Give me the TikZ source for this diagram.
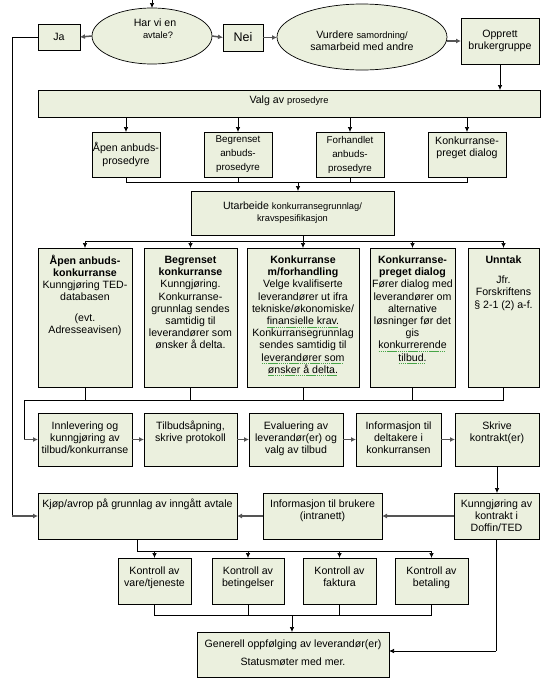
\documentclass[tikz,border=0pt]{standalone}
\usepackage{fontspec}
\setmainfont{Liberation Sans}
\usetikzlibrary{shapes.geometric,arrows.meta}
\definecolor{boxfill}{RGB}{235,240,222}
\definecolor{dg}{RGB}{85,85,85}
\definecolor{gwc}{RGB}{70,165,70}
\newcommand\nf{\fontsize{10.6}{12.2}\selectfont}
\newcommand\sm{\fontsize{9.3}{11}\selectfont}
\newlength\gwl
\newcommand\gw[1]{\leavevmode\settowidth\gwl{#1}\rlap{\raisebox{-2.8pt}[0pt][0pt]{\color{gwc}\hbox to\gwl{\leaders\hbox to 2.1pt{\hss\rule{1.5pt}{0.7pt}\hss}\hfill}}}#1}
% name, x1, y1, x2, y2, inner pos, text
\newcommand\bx[7]{\node[bx] (#1) at ({(#2+#4)/2},{(#3+#5)/2})
  {\parbox[c][\dimexpr #5pt-#3pt\relax][#6]{\dimexpr #4pt-#2pt\relax}{\centering\nf #7}};}
\begin{document}
\begin{tikzpicture}[x=1pt,y=-1pt,
  bx/.style={draw=black,line width=0.7pt,fill=boxfill,inner sep=0pt,outer sep=0pt},
  el/.style={ellipse,draw=black,line width=0.7pt,fill=boxfill,inner sep=0pt,outer sep=0pt},
  txt/.style={align=center,inner sep=0pt,font=\nf},
  ln/.style={line width=0.7pt,black},
  arr/.style={ln,-{Latex[length=5pt,width=4.5pt]}},
  garr/.style={line width=1.5pt,dg,-{Latex[length=5pt,width=5pt]}}]
\useasboundingbox (0,0) rectangle (557,683);

% --- top row
\node[el,minimum width=120pt,minimum height=56pt] (e1) at (152,36) {};
\node[txt] (e1t) at (155,29) {Har vi en\\\hspace*{6pt}{\sm avtale?}};
\bx{ja}{38}{24}{80}{50}{c}{Ja}
\bx{nei}{223}{24}{263}{51}{c}{\fontsize{12.5}{14}\selectfont Nei}
\node[el,minimum width=170pt,minimum height=66pt] (e2) at (362,37) {};
\node[txt] (e2t) at (362,41) {Vurdere {\sm samordning/}\\samarbeid med andre};
\bx{opp}{461}{18}{539}{64}{c}{Opprett\\brukergruppe}

% --- procedure selection
\bx{valg}{38}{90}{540}{117}{t}{\vspace*{5pt}\strut Valg av {\sm prosedyre}}
\bx{p1}{92}{132}{160}{177}{c}{Åpen anbuds-\\prosedyre}
\bx{p2}{204}{132}{272}{177}{c}{\fontsize{9.8}{14}\selectfont Begrenset\\anbuds-\\prosedyre}
\bx{p3}{316}{132}{384}{177}{c}{\fontsize{9.8}{14}\selectfont Forhandlet\\anbuds-\\prosedyre}
\bx{p4}{428}{132}{506}{177}{t}{\vspace*{4pt}\strut Konkurranse-\\preget dialog}

\bx{u}{191}{191}{394}{235}{c}{Utarbeide {\sm konkurransegrunnlag/}\\{\sm kravspesifikasjon}}

% --- competition types
\bx{k1}{38}{248}{132}{387}{t}{\vspace*{7pt}\strut\textbf{Åpen anbuds-}\\\textbf{konkurranse}\\Kunngjøring TED-\\databasen\\[8pt](evt.\\Adresseavisen)}
\bx{k2}{144}{248}{237}{387}{t}{\vspace*{7pt}\strut\textbf{Begrenset}\\\textbf{konkurranse}\\Kunngjøring.\\Konkurranse-\\grunnlag sendes\\samtidig til\\leverandører som\\ønsker å delta.}
\bx{k3}{247}{248}{359}{387}{t}{\vspace*{7pt}\strut\textbf{Konkurranse}\\\textbf{m/forhandling}\\Velge kvalifiserte\\leverandører ut ifra\\tekniske/økonomiske/\\\gw{finansielle krav.}\\Konkurransegrunnlag\\sendes samtidig til\\\gw{leverandører som}\\\gw{ønsker å delta.}}
\bx{k4}{370}{248}{455}{387}{t}{\vspace*{7pt}\strut\textbf{Konkurranse-}\\\textbf{preget dialog}\\Fører dialog med\\leverandører om\\alternative\\løsninger før det\\gis\\\gw{konkurrerende}\\\gw{tilbud.}}
\bx{k5}{468}{248}{539}{387}{t}{\vspace*{7pt}\strut\textbf{Unntak}\\[8pt]Jfr.\\Forskriftens\\§ 2-1 (2) a-f.}

% --- process row
\bx{r1}{38}{413}{132}{466}{t}{\vspace*{8pt}\strut Innlevering og\\kunngjøring av\\tilbud/konkurranse}
\bx{r2}{144}{413}{237}{466}{t}{\vspace*{8pt}\strut Tilbudsåpning,\\skrive protokoll}
\bx{r3}{249}{413}{343}{466}{t}{\vspace*{8pt}\strut Evaluering av\\leverandør(er) og\\valg av tilbud}
\bx{r4}{356}{413}{441}{466}{t}{\vspace*{8pt}\strut Informasjon til\\deltakere i\\konkurransen}
\bx{r5}{455}{413}{539}{466}{t}{\vspace*{8pt}\strut Skrive\\kontrakt(er)}

% --- follow-up
\bx{kjop}{38}{493}{237}{539}{t}{\vspace*{6pt}\strut Kjøp/avrop på grunnlag av inngått avtale}
\bx{inf}{263}{493}{382}{539}{t}{\vspace*{6pt}\strut Informasjon til brukere\\(intranett)}
\bx{kun}{454}{493}{539}{539}{t}{\vspace*{6pt}\strut Kunngjøring av\\kontrakt i\\Doffin/TED}
\bx{c1}{118}{558}{191}{604}{t}{\vspace*{8pt}\strut Kontroll av\\vare/tjeneste}
\bx{c2}{212}{558}{284}{604}{t}{\vspace*{8pt}\strut Kontroll av\\betingelser}
\bx{c3}{303}{558}{376}{604}{t}{\vspace*{8pt}\strut Kontroll av\\faktura}
\bx{c4}{395}{558}{468}{604}{t}{\vspace*{8pt}\strut Kontroll av\\betaling}
\bx{gen}{197}{632}{389}{677}{t}{\vspace*{7pt}\strut Generell oppfølging av leverandør(er)\\[6pt]Statusmøter med mer.}

% --- connectors, top
\coordinate (top) at (152,0);
\draw[arr] (top) -- (e1.north);
\draw[garr] (e1.west) -- (ja.east);
\draw[garr] (e1.east) -- (nei.west);
\draw[garr] (nei.east) -- (nei.east -| e2.west);
\draw[garr] (e2.east |- opp.west) -- (opp.west);
\draw[arr] (opp.south) -- (opp.south |- valg.north);
\foreach \p in {p1,p2,p3,p4} \draw[arr] (valg.south -| \p.north) -- (\p.north);

% procedures -> Utarbeide
\coordinate (j1) at (298,182);
\draw[ln] (p1.south) |- (p4.south |- j1) -- (p4.south);
\draw[ln] (p2.south) -- (p2.south |- j1);
\draw[ln] (p3.south) -- (p3.south |- j1);
\draw[arr] (j1) -- (j1 |- u.north);

% Utarbeide -> competition types
\coordinate (j2) at (0,241);
\draw[ln] (k1.north |- j2) -- (k5.north |- j2);
\foreach \k in {k1,k2,k4,k5} \draw[arr] (\k.north |- j2) -- (\k.north);
\draw[arr] (k3.north |- u.south) -- (k3.north);

% competition types -> process row
\coordinate (j3) at (24,400);
\foreach \k in {k1,k2,k3,k4} \draw[ln] (\k.south) -- (\k.south |- j3);
\draw[ln] (k5.south) |- (j3) -- (j3 |- r1.west);
\draw[garr] (j3 |- r1.west) -- (r1.west);
\draw[garr] (r1.east) -- (r2.west);
\draw[garr] (r2.east) -- (r3.west);
\draw[garr] (r3.east) -- (r4.west);
\draw[garr] (r4.east) -- (r5.west);
\draw[arr] (r5.south) -- (r5.south |- kun.north);
\draw[garr] (kun.west) -- (inf.east);
\draw[garr] (inf.west) -- (kjop.east);

% Ja -> Kjøp
\coordinate (j4) at (12,37);
\draw[ln] (ja.west) -- (j4) -- (j4 |- kjop.west);
\draw[garr] (j4 |- kjop.west) -- (kjop.west);

% Kjøp -> controls
\coordinate (j5) at (137,551);
\draw[ln] (j5 |- kjop.south) -- (j5) -- (c4.north |- j5);
\foreach \c in {c1,c2,c3,c4} \draw[arr] (\c.north |- j5) -- (\c.north);

% controls -> Generell
\coordinate (j6) at (292,615);
\draw[ln] (c1.south) |- (c4.south |- j6) -- (c4.south);
\draw[ln] (c2.south) -- (c2.south |- j6);
\draw[ln] (c3.south) -- (c3.south |- j6);
\draw[arr] (j6) -- (j6 |- gen.north);

% Kunngjøring -> Generell
\coordinate (j7) at (496,651);
\draw[ln] (j7 |- kun.south) -- (j7);
\draw[arr] (j7) -- (j7 -| gen.east);
\end{tikzpicture}
\end{document}
